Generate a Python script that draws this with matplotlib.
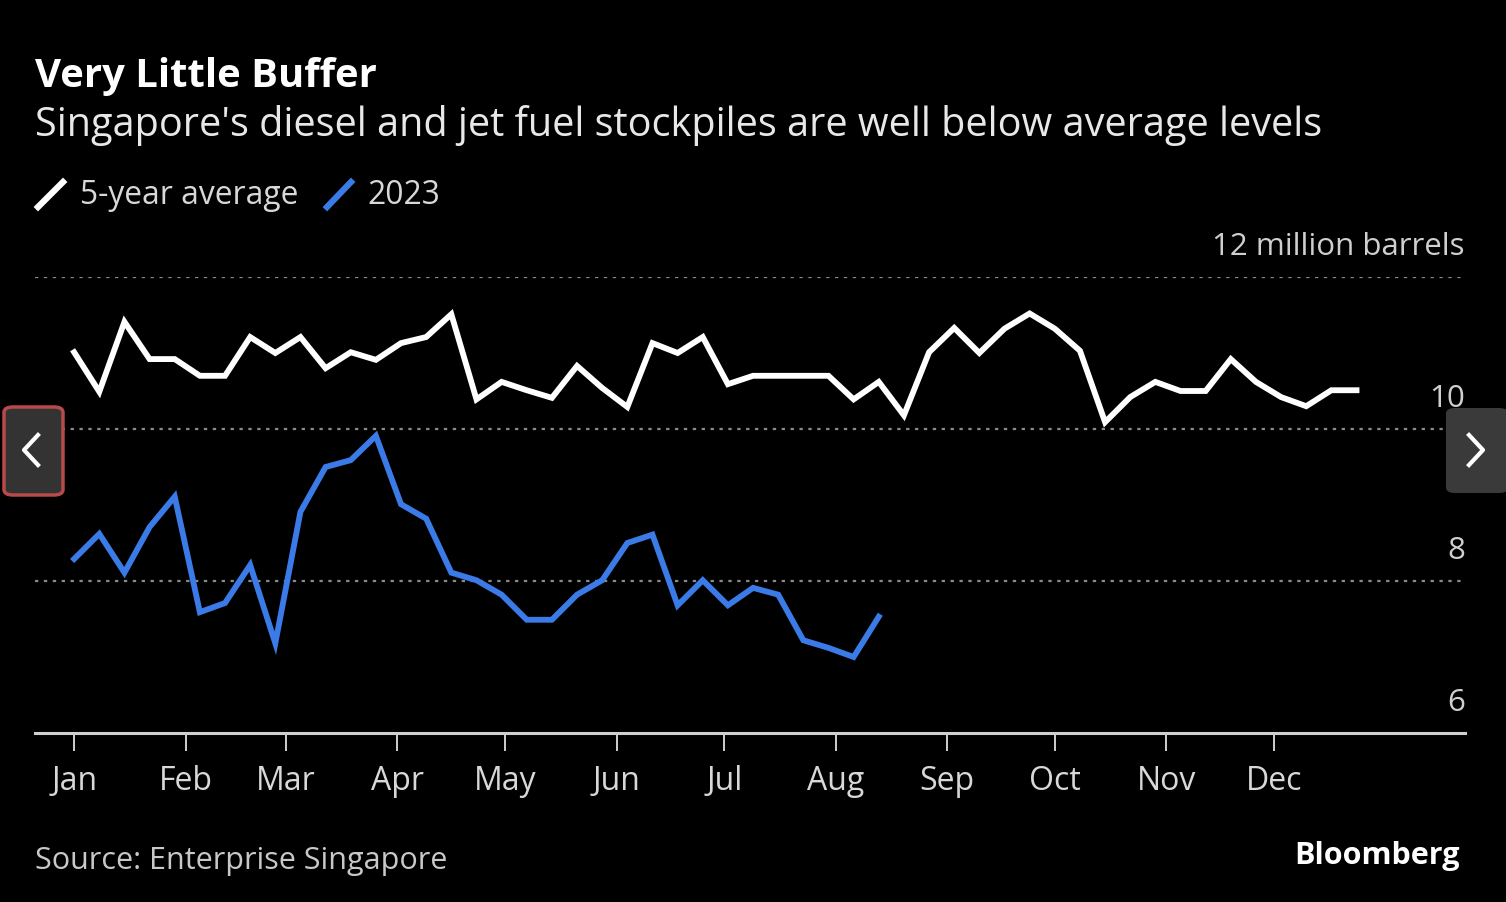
import numpy as np
import matplotlib
matplotlib.use("Agg")
import matplotlib.pyplot as plt
from matplotlib.patches import FancyBboxPatch

plt.rcParams['font.family'] = ['Open Sans', 'DejaVu Sans']

# weekly stockpiles, million barrels
avg_5yr = [11.01, 10.49, 11.41, 10.92, 10.92, 10.70, 10.70, 11.21, 11.00, 11.21,
           10.80, 11.01, 10.91, 11.13, 11.21, 11.51, 10.39, 10.62, 10.51, 10.41,
           10.83, 10.54, 10.29, 11.13, 11.00, 11.21, 10.59, 10.70, 10.70, 10.70,
           10.70, 10.39, 10.62, 10.18, 11.01, 11.33, 11.00, 11.32, 11.52, 11.32,
           11.03, 10.09, 10.42, 10.62, 10.50, 10.50, 10.92, 10.62, 10.42, 10.30,
           10.51, 10.51]
y2023 = [8.29, 8.62, 8.11, 8.71, 9.11, 7.59, 7.71, 8.21, 7.18, 8.91,
         9.50, 9.59, 9.91, 9.01, 8.82, 8.11, 8.01, 7.82, 7.49, 7.49,
         7.82, 8.01, 8.50, 8.61, 7.68, 8.01, 7.68, 7.91, 7.82, 7.22,
         7.12, 7.00, 7.53]

months = ['Jan', 'Feb', 'Mar', 'Apr', 'May', 'Jun', 'Jul', 'Aug', 'Sep', 'Oct', 'Nov', 'Dec']
month_start = [0, 31, 59, 90, 120, 151, 181, 212, 243, 273, 304, 334]
y_ticks = [6, 8, 10, 12]

avg_days = np.arange(len(avg_5yr)) * 7
days_2023 = np.arange(len(y2023)) * 7

fig = plt.figure(figsize=(15.06, 9.02), dpi=100, facecolor='black')
ax = fig.add_axes([35 / 1506, 1 - 733 / 902, 1430 / 1506, 456 / 902])
ax.set_facecolor('black')

ax.plot(avg_days, avg_5yr, color='white', lw=4.2, solid_joinstyle='miter')
ax.plot(days_2023, y2023, color='#3a7be8', lw=4.2, solid_joinstyle='miter')

ax.set_xlim(-10.9, 387.2)
ax.set_ylim(6, 12)

for v in y_ticks[1:]:
    ax.axhline(v, color='#8a8a8a', lw=1.6, ls=(0, (1.5, 2.5)), zorder=0)
ax.axhline(6, color='#cfcfcf', lw=2.2, zorder=3, clip_on=False)

for s in ax.spines.values():
    s.set_visible(False)
ax.set_yticks([])
ax.set_xticks(month_start)
ax.set_xticklabels(months, fontsize=23, color='#d8d8d8')
ax.tick_params(axis='x', length=13, width=1.4, color='#cfcfcf', pad=10)

for v in y_ticks:
    lab = '12 million barrels' if v == 12 else str(v)
    ax.text(1.0, v + 0.2, lab, transform=ax.get_yaxis_transform(),
            ha='right', va='bottom', fontsize=22.5, color='#cfcfcf')

fig.text(35 / 1506, 1 - 76 / 902, 'Very Little Buffer', fontsize=28.8, fontweight='bold',
         color='white', va='center', ha='left')
fig.text(35 / 1506, 1 - 125 / 902,
         "Singapore's diesel and jet fuel stockpiles are well below average levels",
         fontsize=28.5, color='#e8e8e8', va='center', ha='left')

# legend
fig.lines.append(plt.Line2D([38 / 1506, 63 / 1506], [1 - 207 / 902, 1 - 182 / 902],
                            transform=fig.transFigure, color='white', lw=4.5))
fig.text(80 / 1506, 1 - 195 / 902, '5-year average', fontsize=22.9, color='#d8d8d8',
         va='center', ha='left')
fig.lines.append(plt.Line2D([327 / 1506, 351 / 1506], [1 - 207 / 902, 1 - 182 / 902],
                            transform=fig.transFigure, color='#3a7be8', lw=4.5))
fig.text(367 / 1506, 1 - 195 / 902, '2023', fontsize=22.9, color='#d8d8d8',
         va='center', ha='left')

fig.text(35 / 1506, 1 - 861 / 902, 'Source: Enterprise Singapore', fontsize=22,
         color='#c8c8c8', va='center', ha='left')
fig.text(1460 / 1506, 1 - 856 / 902, 'Bloomberg', fontsize=22, fontweight='bold',
         color='white', va='center', ha='right')

# carousel buttons from the page
left_btn = FancyBboxPatch((4 / 1506, 1 - 495 / 902), 59 / 1506, 88 / 902,
                          boxstyle='round,pad=0,rounding_size=0.006',
                          transform=fig.transFigure, facecolor='#333333',
                          edgecolor='#b84a4a', lw=2.5)
right_btn = FancyBboxPatch((1446 / 1506, 1 - 493 / 902), 62 / 1506, 85 / 902,
                           boxstyle='round,pad=0,rounding_size=0.006',
                           transform=fig.transFigure, facecolor='#3a3a3a',
                           edgecolor='none')
fig.patches.extend([left_btn, right_btn])
fig.lines.append(plt.Line2D([38 / 1506, 24 / 1506, 38 / 1506],
                            [1 - 435 / 902, 1 - 450 / 902, 1 - 465 / 902],
                            transform=fig.transFigure, color='white', lw=3))
fig.lines.append(plt.Line2D([1469 / 1506, 1483 / 1506, 1469 / 1506],
                            [1 - 435 / 902, 1 - 450 / 902, 1 - 465 / 902],
                            transform=fig.transFigure, color='white', lw=3))

fig.savefig('out.png', dpi=100, facecolor='black')
